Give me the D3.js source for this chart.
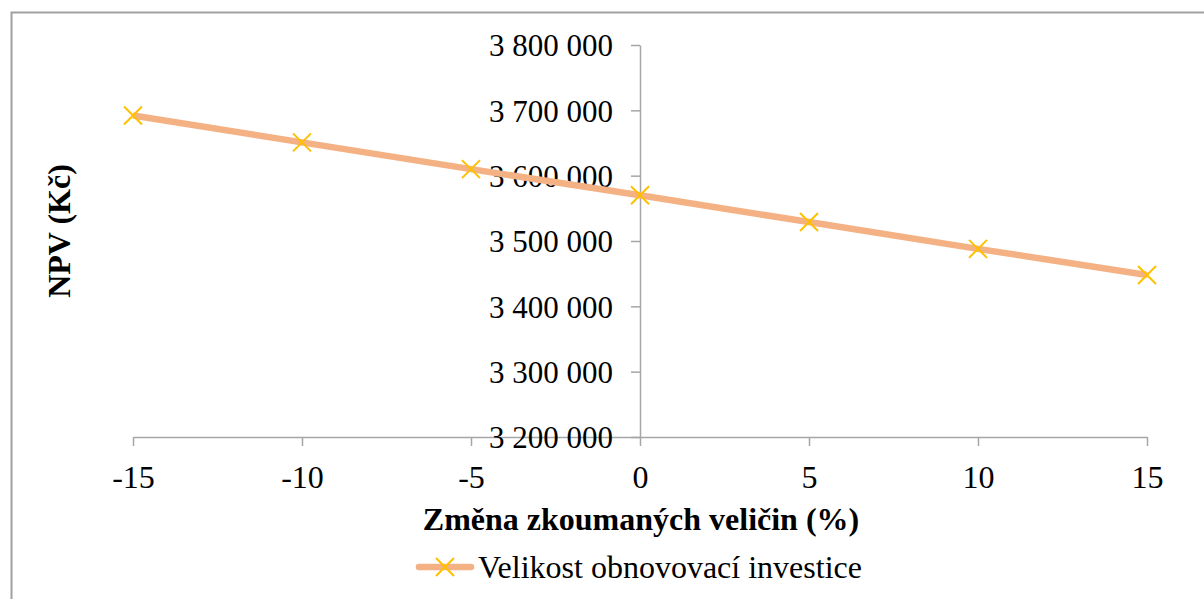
<!DOCTYPE html>
<html><head><meta charset="utf-8">
<script src="https://cdn.jsdelivr.net/npm/d3@7"></script>
<style>
html,body{margin:0;padding:0;background:#fff;}
svg{display:block;}
text{font-family:"Liberation Serif","Times New Roman",serif;fill:#000;}
</style></head>
<body>
<svg id="chart" width="1204" height="599"></svg>
<script>
const changes = [-15, -10, -5, 0, 5, 10, 15];
const npv = [3692000, 3651000, 3610000, 3570000, 3529000, 3488000, 3448000];
const xTicks = [-15, -10, -5, 0, 5, 10, 15];
const yTicks = [3200000, 3300000, 3400000, 3500000, 3600000, 3700000, 3800000];
const seriesName = "Velikost obnovovací investice";
const xTitle = "Změna zkoumaných veličin (%)";
const yTitle = "NPV (Kč)";

const svg = d3.select("#chart");
const axisColor = "#a6a6a6";

// chart border
svg.append("rect").attr("x", 11.5).attr("y", 12.5).attr("width", 1300).attr("height", 700)
  .attr("fill", "none").attr("stroke", "#a0a0a0").attr("stroke-width", 2);

const x = d3.scaleLinear().domain([-15, 15]).range([133, 1147]);
const y = d3.scaleLinear().domain([3200000, 3800000]).range([437, 45]);

const fmt = v => d3.format(",")(v).replace(/,/g, " ");

// x axis
const xAxis = svg.append("g").attr("transform", `translate(0,${y(3200000)})`)
  .call(d3.axisBottom(x).tickValues(xTicks).tickSize(9).tickSizeOuter(0).tickFormat(d => d));
xAxis.attr("font-family", null);
xAxis.select(".domain").attr("stroke", axisColor).attr("stroke-width", 1.5);
xAxis.selectAll(".tick line").attr("stroke", axisColor).attr("stroke-width", 1.5);
xAxis.selectAll(".tick text").attr("font-size", 32).attr("dy", "0").attr("y", 51);

// y axis at x=0
const yAxis = svg.append("g").attr("transform", `translate(${x(0)},0)`)
  .call(d3.axisLeft(y).tickValues(yTicks).tickSize(9).tickSizeOuter(0).tickFormat(fmt));
yAxis.attr("font-family", null);
yAxis.select(".domain").attr("stroke", axisColor).attr("stroke-width", 1.5);
yAxis.selectAll(".tick line").attr("stroke", axisColor).attr("stroke-width", 1.5);
yAxis.selectAll(".tick text").attr("font-size", 31).attr("x", -27).attr("dy", "0.35em");

// line
const pts = changes.map((c, i) => [c, npv[i]]);
svg.append("path").datum(pts)
  .attr("fill", "none").attr("stroke", "#f4b183").attr("stroke-width", 6.5)
  .attr("d", d3.line().x(d => x(d[0])).y(d => y(d[1])));

// markers
const s = 9;
const xMark = (cx, cy) => `M${cx - s},${cy - s}L${cx + s},${cy + s}M${cx - s},${cy + s}L${cx + s},${cy - s}`;
svg.append("g").selectAll("path").data(pts).join("path")
  .attr("d", d => xMark(x(d[0]), y(d[1])))
  .attr("stroke", "#ffc000").attr("stroke-width", 2).attr("fill", "none");

// axis titles
svg.append("text").attr("x", 641).attr("y", 530).attr("text-anchor", "middle")
  .attr("font-size", 32).attr("font-weight", "bold").text(xTitle);
svg.append("text").attr("transform", "translate(70,231) rotate(-90)").attr("text-anchor", "middle")
  .attr("font-size", 32).attr("font-weight", "bold").text(yTitle);

// legend
svg.append("line").attr("x1", 419).attr("x2", 471).attr("y1", 567).attr("y2", 567)
  .attr("stroke", "#f4b183").attr("stroke-width", 6.5).attr("stroke-linecap", "round");
svg.append("path").attr("d", xMark(445, 567)).attr("stroke", "#ffc000").attr("stroke-width", 2);
svg.append("text").attr("x", 478).attr("y", 578).attr("font-size", 32).text(seriesName);
</script>
</body></html>
